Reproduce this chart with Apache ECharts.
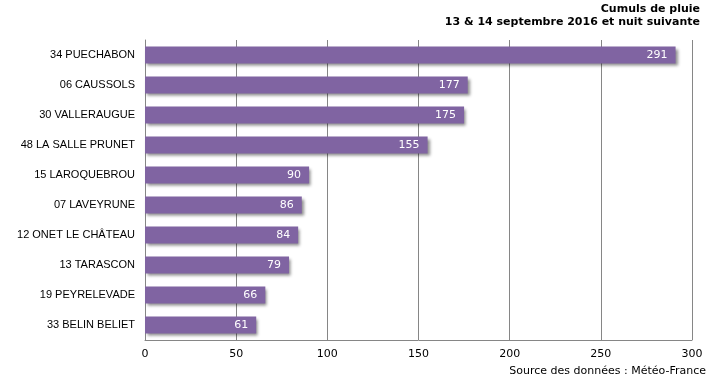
<!DOCTYPE html>
<html><head><meta charset="utf-8">
<script src="https://cdn.jsdelivr.net/npm/echarts@6/dist/echarts.min.js"></script>
<style>html,body{margin:0;padding:0;background:#fff}#c{width:715px;height:383px}</style>
</head><body><div id="c"></div>
<script>
const categories = ["34 PUECHABON","06 CAUSSOLS","30 VALLERAUGUE","48 LA SALLE PRUNET","15 LAROQUEBROU","07 LAVEYRUNE","12 ONET LE CHÂTEAU","13 TARASCON","19 PEYRELEVADE","33 BELIN BELIET"];
const values = [291,177,175,155,90,86,84,79,66,61];
const xTicks = [0,50,100,150,200,250,300];
const titleLines = ["Cumuls de pluie","13 & 14 septembre 2016 et nuit suivante"];
const sourceText = "Source des données : Météo-France";

const chart = echarts.init(document.getElementById('c'), null, {renderer:'canvas'});
const font = 'Verdana, "DejaVu Sans", sans-serif';
chart.setOption({
  animation:false,
  graphic:[
    {type:'text', x:700, y:4, style:{text:titleLines[0], align:'right', verticalAlign:'top', font:'bold 11px '+font, fill:'#000'}},
    {type:'text', x:700, y:17, style:{text:titleLines[1], align:'right', verticalAlign:'top', font:'bold 11px '+font, fill:'#000'}},
    {type:'text', x:706, y:366, style:{text:sourceText, align:'right', verticalAlign:'top', font:'11px '+font, fill:'#000'}}
  ],
  grid:{left:145, right:23, top:40, bottom:43, containLabel:false},
  xAxis:{
    type:'value', min:xTicks[0], max:xTicks[xTicks.length-1], interval:50,
    axisLine:{show:true, lineStyle:{color:'#868686'}},
    axisTick:{show:false},
    splitLine:{show:true, lineStyle:{color:'#868686', width:1}},
    axisLabel:{fontFamily:font, fontSize:11, color:'#000', margin:9}
  },
  yAxis:{
    type:'category', data:categories, inverse:true,
    axisLine:{show:true, lineStyle:{color:'#868686'}},
    axisTick:{show:false},
    axisLabel:{fontFamily:'Arial, "Liberation Sans"', fontSize:11, color:'#000', margin:10}
  },
  series:[{
    type:'bar', data:values, barWidth:17,
    itemStyle:{color:'#8064A2', shadowColor:'rgba(0,0,0,0.45)', shadowBlur:3, shadowOffsetX:2, shadowOffsetY:2},
    label:{show:true, position:'insideRight', distance:8, color:'#fff', fontFamily:font, fontSize:11}
  }]
});
</script></body></html>
